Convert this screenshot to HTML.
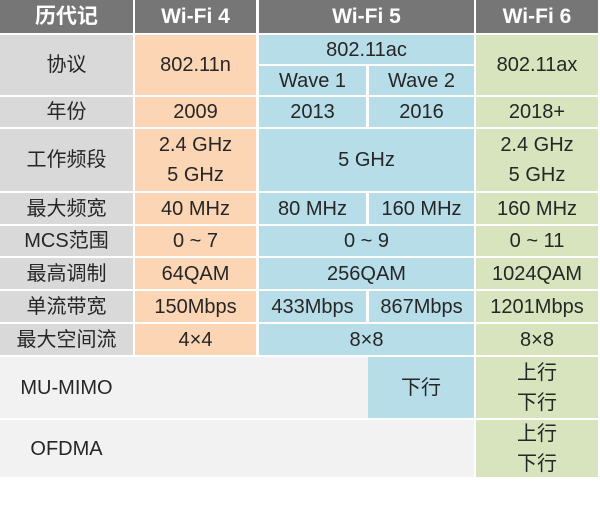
<!DOCTYPE html><html><head><meta charset="utf-8"><style>
body{margin:0;width:600px;height:524px;background:#fff;position:relative;overflow:hidden;font-family:"Liberation Sans","Noto Sans CJK SC",sans-serif;}
.c{position:absolute;display:flex;align-items:center;justify-content:center;text-align:center;font-size:20px;color:#262626;line-height:30px}
.h{background:#767676;color:#fff;font-weight:bold;font-size:21px}
.a{background:#d9d9d9}.b{background:#fcd5b5}.w{background:#b7dde8}.g{background:#d7e4bd}.e{background:#f2f2f2}
</style></head><body>
<div class="c h" style="left:0;top:0;width:133px;height:33px">历代记</div>
<div class="c h" style="left:135px;top:0;width:121px;height:33px">Wi-Fi 4</div>
<div class="c h" style="left:259px;top:0;width:215px;height:33px">Wi-Fi 5</div>
<div class="c h" style="left:476px;top:0;width:122px;height:33px">Wi-Fi 6</div>

<div class="c a" style="left:0;top:35px;width:133px;height:60px">协议</div>
<div class="c b" style="left:135px;top:35px;width:121px;height:60px">802.11n</div>
<div class="c w" style="left:259px;top:35px;width:215px;height:29px">802.11ac</div>
<div class="c w" style="left:259px;top:66px;width:107px;height:29px">Wave 1</div>
<div class="c w" style="left:369px;top:66px;width:105px;height:29px">Wave 2</div>
<div class="c g" style="left:476px;top:35px;width:122px;height:60px">802.11ax</div>

<div class="c a" style="left:0;top:97px;width:133px;height:30px">年份</div>
<div class="c b" style="left:135px;top:97px;width:121px;height:30px">2009</div>
<div class="c w" style="left:259px;top:97px;width:107px;height:30px">2013</div>
<div class="c w" style="left:369px;top:97px;width:105px;height:30px">2016</div>
<div class="c g" style="left:476px;top:97px;width:122px;height:30px">2018+</div>

<div class="c a" style="left:0;top:129px;width:133px;height:62px">工作频段</div>
<div class="c b" style="left:135px;top:129px;width:121px;height:62px">2.4 GHz<br>5 GHz</div>
<div class="c w" style="left:259px;top:129px;width:215px;height:62px">5 GHz</div>
<div class="c g" style="left:476px;top:129px;width:122px;height:62px">2.4 GHz<br>5 GHz</div>

<div class="c a" style="left:0;top:193px;width:133px;height:31px">最大频宽</div>
<div class="c b" style="left:135px;top:193px;width:121px;height:31px">40 MHz</div>
<div class="c w" style="left:259px;top:193px;width:107px;height:31px">80 MHz</div>
<div class="c w" style="left:369px;top:193px;width:105px;height:31px">160 MHz</div>
<div class="c g" style="left:476px;top:193px;width:122px;height:31px">160 MHz</div>

<div class="c a" style="left:0;top:226px;width:133px;height:30px">MCS范围</div>
<div class="c b" style="left:135px;top:226px;width:121px;height:30px">0 ~ 7</div>
<div class="c w" style="left:259px;top:226px;width:215px;height:30px">0 ~ 9</div>
<div class="c g" style="left:476px;top:226px;width:122px;height:30px">0 ~ 11</div>

<div class="c a" style="left:0;top:258px;width:133px;height:31px">最高调制</div>
<div class="c b" style="left:135px;top:258px;width:121px;height:31px">64QAM</div>
<div class="c w" style="left:259px;top:258px;width:215px;height:31px">256QAM</div>
<div class="c g" style="left:476px;top:258px;width:122px;height:31px">1024QAM</div>

<div class="c a" style="left:0;top:291px;width:133px;height:31px">单流带宽</div>
<div class="c b" style="left:135px;top:291px;width:121px;height:31px">150Mbps</div>
<div class="c w" style="left:259px;top:291px;width:107px;height:31px">433Mbps</div>
<div class="c w" style="left:369px;top:291px;width:105px;height:31px">867Mbps</div>
<div class="c g" style="left:476px;top:291px;width:122px;height:31px">1201Mbps</div>

<div class="c a" style="left:0;top:324px;width:133px;height:31px">最大空间流</div>
<div class="c b" style="left:135px;top:324px;width:121px;height:31px">4×4</div>
<div class="c w" style="left:259px;top:324px;width:215px;height:31px">8×8</div>
<div class="c g" style="left:476px;top:324px;width:122px;height:31px">8×8</div>

<div class="c e" style="left:0;top:357px;width:133px;height:61px">MU-MIMO</div>
<div class="c e" style="left:133px;top:357px;width:235px;height:61px"></div>
<div class="c w" style="left:368px;top:357px;width:106px;height:61px">下行</div>
<div class="c g" style="left:476px;top:357px;width:122px;height:61px">上行<br>下行</div>

<div class="c e" style="left:0;top:420px;width:474px;height:57px"></div>
<div class="c" style="left:0;top:420px;width:133px;height:57px">OFDMA</div>
<div class="c g" style="left:476px;top:420px;width:122px;height:57px">上行<br>下行</div>
</body></html>
